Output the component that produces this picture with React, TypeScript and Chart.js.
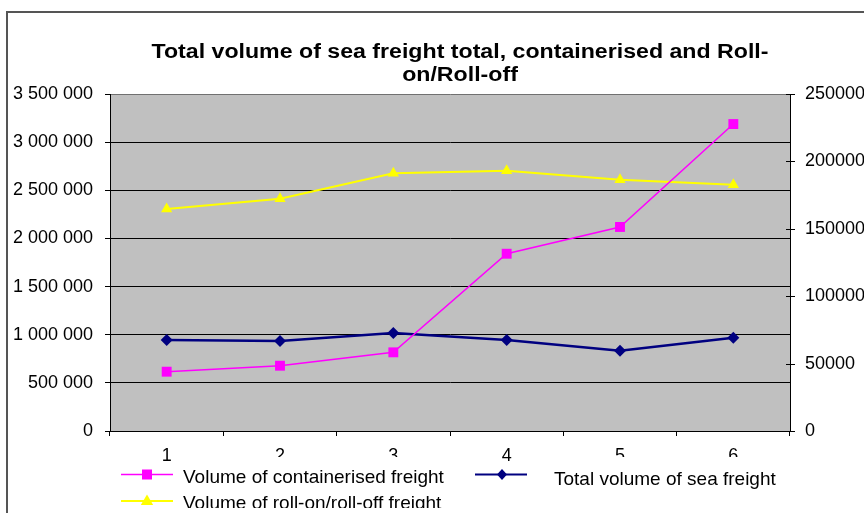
import React, { useEffect, useRef } from 'react';
import { Chart, registerables } from 'chart.js';

Chart.register(...registerables);

const categories = ['1', '2', '3', '4', '5', '6'];
const containerised = [616000, 678000, 817000, 1841000, 2119000, 3188000];
const totalSea = [945000, 935000, 1018000, 945000, 834000, 969000];
const rollOnRollOff = [164700, 172300, 191200, 193100, 186400, 182700];

const leftMax = 3500000;
const leftStep = 500000;
const rightMax = 250000;
const rightStep = 50000;

const titleLines = ['Total volume of sea freight total, containerised and Roll-', 'on/Roll-off'];
const legendLabels = [
  'Volume of containerised freight',
  'Total volume of sea freight',
  'Volume of roll-on/roll-off freight',
];

const FONT = "'Liberation Sans', Arial, Helvetica, sans-serif";
const PINK = '#FF00FF';
const NAVY = '#000080';
const YELLOW = '#FFFF00';

const fmtSpaces = (v: number) => String(v).replace(/\B(?=(\d{3})+(?!\d))/g, ' ');

function drawSquare(ctx: CanvasRenderingContext2D, x: number, y: number, s: number, c: string) {
  ctx.fillStyle = c;
  ctx.fillRect(x - s / 2, y - s / 2, s, s);
}
function drawDiamond(ctx: CanvasRenderingContext2D, x: number, y: number, w: number, h: number, c: string) {
  ctx.fillStyle = c;
  ctx.beginPath();
  ctx.moveTo(x, y - h);
  ctx.lineTo(x + w, y);
  ctx.lineTo(x, y + h);
  ctx.lineTo(x - w, y);
  ctx.closePath();
  ctx.fill();
}
function drawTriangle(ctx: CanvasRenderingContext2D, x: number, y: number, r: number, c: string) {
  ctx.fillStyle = c;
  ctx.beginPath();
  ctx.moveTo(x, y - r);
  ctx.lineTo(x + r * 0.95, y + r * 0.6);
  ctx.lineTo(x - r * 0.95, y + r * 0.6);
  ctx.closePath();
  ctx.fill();
}

const decor = {
  id: 'decor',
  beforeDraw(chart: any) {
    const { ctx, chartArea: a } = chart;
    ctx.save();
    ctx.fillStyle = '#FFFFFF';
    ctx.fillRect(0, 0, chart.width, chart.height);
    ctx.fillStyle = '#C0C0C0';
    ctx.fillRect(a.left, a.top, a.right - a.left, a.bottom - a.top);
    ctx.fillStyle = '#555555';
    ctx.fillRect(6, 11, chart.width - 6, 2);
    ctx.fillRect(6, 11, 2, chart.height - 11);
    ctx.restore();
  },
  afterDraw(chart: any) {
    const { ctx, chartArea: a } = chart;
    ctx.save();
    // right axis cross ticks
    const y1 = chart.scales.y1;
    ctx.strokeStyle = '#000';
    ctx.lineWidth = 1;
    y1.ticks.forEach((t: any) => {
      const py = Math.round(y1.getPixelForValue(t.value)) + 0.5;
      ctx.beginPath();
      ctx.moveTo(a.right - 4, py);
      ctx.lineTo(a.right + 5, py);
      ctx.stroke();
    });

    // title (slightly widened like the original rendering)
    ctx.fillStyle = '#000';
    ctx.font = `bold 20px ${FONT}`;
    ctx.textBaseline = 'alphabetic';
    ctx.textAlign = 'center';
    const w0 = ctx.measureText(titleLines[0]).width;
    const sx = 617 / w0;
    const cx = 460;
    ctx.save();
    ctx.translate(cx, 0);
    ctx.scale(sx, 1);
    ctx.fillText(titleLines[0], 0, 58);
    ctx.fillText(titleLines[1], 0, 81);
    ctx.restore();

    // legend text boxes (white, covering part of the category labels)
    ctx.fillStyle = '#FFFFFF';
    ctx.fillRect(177, 457, 278, chart.height - 457);
    ctx.fillRect(533, 457, 257, chart.height - 457);

    // legend area is clipped at its lower edge, as in the original
    ctx.save();
    ctx.beginPath();
    ctx.rect(0, 0, chart.width, 508);
    ctx.clip();

    ctx.lineWidth = 1.5;
    ctx.strokeStyle = PINK;
    ctx.beginPath();
    ctx.moveTo(121, 474.5);
    ctx.lineTo(173, 474.5);
    ctx.stroke();
    drawSquare(ctx, 147, 474.5, 10, PINK);

    ctx.lineWidth = 2;
    ctx.strokeStyle = NAVY;
    ctx.beginPath();
    ctx.moveTo(475, 474.5);
    ctx.lineTo(527, 474.5);
    ctx.stroke();
    drawDiamond(ctx, 502, 474.5, 5, 5.5, NAVY);

    ctx.strokeStyle = YELLOW;
    ctx.beginPath();
    ctx.moveTo(121, 501);
    ctx.lineTo(173, 501);
    ctx.stroke();
    drawTriangle(ctx, 147, 501, 6.5, YELLOW);

    ctx.fillStyle = '#000';
    ctx.font = `19px ${FONT}`;
    ctx.textAlign = 'left';
    ctx.textBaseline = 'middle';
    ctx.fillText(legendLabels[0], 183, 478);
    ctx.fillText(legendLabels[1], 554, 480);
    ctx.fillText(legendLabels[2], 183, 504);
    ctx.restore();
    ctx.restore();
  },
};

export default function App() {
  const ref = useRef<HTMLCanvasElement>(null);
  useEffect(() => {
    document.body.style.margin = '0';
    const tickFont = { family: FONT, size: 18 };
    const chart = new Chart(ref.current!, {
      type: 'line',
      data: {
        labels: categories,
        datasets: [
          {
            label: legendLabels[0],
            data: containerised,
            yAxisID: 'y',
            borderColor: PINK,
            backgroundColor: PINK,
            borderWidth: 1.5,
            pointStyle: 'rect',
            pointRadius: 7,
            pointBorderWidth: 0,
            tension: 0,
          },
          {
            label: legendLabels[1],
            data: totalSea,
            yAxisID: 'y',
            borderColor: NAVY,
            backgroundColor: NAVY,
            borderWidth: 2.5,
            pointStyle: 'rectRot',
            pointRadius: 6,
            pointBorderWidth: 0,
            tension: 0,
          },
          {
            label: legendLabels[2],
            data: rollOnRollOff,
            yAxisID: 'y1',
            borderColor: YELLOW,
            backgroundColor: YELLOW,
            borderWidth: 2,
            pointStyle: 'triangle',
            pointRadius: 6.5,
            pointBorderWidth: 0,
            tension: 0,
          },
        ],
      },
      options: {
        responsive: false,
        devicePixelRatio: 1,
        animation: false,
        events: [],
        layout: { padding: { top: 94, left: 0, right: 0, bottom: 0 } },
        plugins: {
          legend: { display: false },
          title: { display: false },
          tooltip: { enabled: false },
        },
        scales: {
          x: {
            type: 'category',
            offset: true,
            grid: { offset: true, drawOnChartArea: false, tickLength: 5, color: '#000' },
            border: { color: '#000', width: 1 },
            ticks: { font: tickFont, color: '#000', padding: 9, maxRotation: 0, autoSkip: false },
            afterFit: (s: any) => {
              s.height = 82;
            },
          },
          y: {
            position: 'left',
            min: 0,
            max: leftMax,
            ticks: {
              stepSize: leftStep,
              font: tickFont,
              color: '#000',
              padding: 12,
              callback: (v: any) => fmtSpaces(Number(v)),
            },
            grid: {
              color: (c: any) => (c.tick && c.tick.value === leftMax ? '#707070' : '#000'),
              tickColor: '#000',
              tickLength: 5,
              lineWidth: 1,
            },
            border: { color: '#000', width: 1 },
            afterFit: (s: any) => {
              s.width = 110;
            },
          },
          y1: {
            position: 'right',
            min: 0,
            max: rightMax,
            ticks: {
              stepSize: rightStep,
              font: tickFont,
              color: '#000',
              padding: 15,
              callback: (v: any) => String(v),
            },
            grid: { drawOnChartArea: false, drawTicks: false },
            border: { color: '#000', width: 1 },
            afterFit: (s: any) => {
              s.width = 74;
            },
          },
        },
      } as any,
      plugins: [decor],
    });
    return () => chart.destroy();
  }, []);
  return (
    <div style={{ position: 'relative', width: 864, height: 513 }}>
      <canvas ref={ref} width={864} height={513} style={{ display: 'block', width: 864, height: 513 }} />
    </div>
  );
}
